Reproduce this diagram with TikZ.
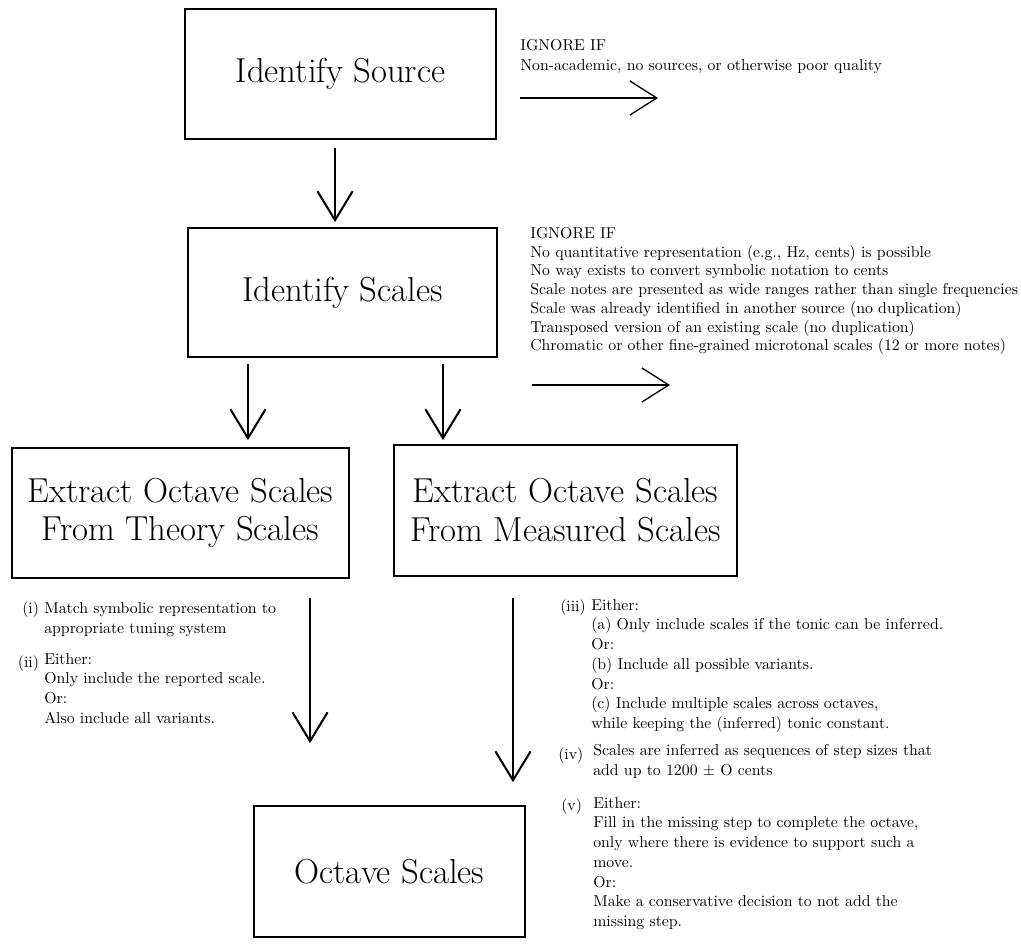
\documentclass[tikz,border=0pt]{standalone}
\usetikzlibrary{arrows.meta}
\begin{document}
\begin{tikzpicture}[x=0.64pt,y=-0.64pt,
  box/.style={draw, line width=1.1pt, inner sep=0pt, align=center, font=\fontsize{22.2}{24.8}\selectfont},
  varrow/.style={line width=1.3pt, -{Straight Barb[length=18.5pt,width=22.5pt]}},
  harrow/.style={line width=0.85pt, -{Straight Barb[length=17.2pt,width=21.8pt]}},
  note/.style={inner sep=0pt, align=left, anchor=north west},
  lbl/.style={inner sep=0pt, font=\fontsize{10.1}{12}\selectfont}]
\path[use as bounding box] (0,0) rectangle (1021,946);

% boxes
\node[box, minimum width=199.0pt, minimum height=83.2pt] (src) at (340.5,74) {Identify Source};
\node[box, minimum width=197.8pt, minimum height=82.6pt] (scl) at (342.5,292.5) {Identify Scales};
\node[box, minimum width=215.7pt, minimum height=83.2pt] (th) at (180.5,513) {Extract Octave Scales\\From Theory Scales};
\node[box, minimum width=219.5pt, minimum height=83.8pt] (ms) at (565.5,510.5) {Extract Octave Scales\\From Measured Scales};
\node[box, minimum width=173.4pt, minimum height=83.8pt] (oct) at (389.5,871.5) {Octave Scales};

% vertical connectors
\draw[varrow, shorten <=5.1pt, shorten >=3.2pt] ([xshift=-3.5pt]src.south) -- ([xshift=-3.5pt]src.south |- scl.north);
\draw[varrow, shorten <=3.8pt, shorten >=4.5pt] ([xshift=-60.5pt]scl.south) -- ([xshift=-60.5pt]scl.south |- th.north);
\draw[varrow, shorten <=3.8pt, shorten >=2.6pt] ([xshift=64.3pt]scl.south) -- ([xshift=64.3pt]scl.south |- ms.north);
\draw[varrow, shorten <=12.2pt, shorten >=39.7pt] ([xshift=82.9pt]th.south) -- ([xshift=82.9pt]th.south |- oct.north);
\draw[varrow, shorten <=13.4pt, shorten >=14.7pt] ([xshift=-33.6pt]ms.south) -- ([xshift=-33.6pt]ms.south |- oct.north);

% horizontal "ignore" arrows
\coordinate (h1a) at (520,98);
\coordinate (h1b) at (658,98);
\coordinate (h2a) at (532,385);
\coordinate (h2b) at (670,385);
\draw[harrow] (h1a) -- (h1b);
\draw[harrow] (h2a) -- (h2b);

% ignore notes
\node[note, font=\fontsize{10.1}{12.4}\selectfont] (ign1) at (520,37.1)
  {\strut IGNORE IF\\Non-academic, no sources, or otherwise poor quality};
\node[note, font=\fontsize{10.1}{12}\selectfont] (ign2) at (530,224.9)
  {\strut IGNORE IF\\
   No quantitative representation (e.g., Hz, cents) is possible\\
   No way exists to convert symbolic notation to cents\\
   Scale notes are presented as wide ranges rather than single frequencies\\
   Scale was already identified in another source (no duplication)\\
   Transposed version of an existing scale (no duplication)\\
   Chromatic or other fine-grained microtonal scales (12 or more notes)};

% left notes
\node[lbl, anchor=base east] (li) at (39.3,613.4) {(i)};
\node[note, font=\fontsize{10.1}{12.6}\selectfont] (ti) at (44,599.7)
  {\strut Match symbolic representation to\\appropriate tuning system};
\node[lbl, anchor=base east] (lii) at (39.3,667.8) {(ii)};
\node[note, font=\fontsize{10.1}{12.6}\selectfont] (tii) at (44,650.2)
  {\strut Either:\\Only include the reported scale.\\Or:\\Also include all variants.};

% right notes
\node[lbl, anchor=base west] (liii) at (560,611) {(iii)};
\node[note, font=\fontsize{10.1}{12.6}\selectfont] (tiii) at (591,596.2)
  {\strut Either:\\
   (a) Only include scales if the tonic can be inferred.\\
   Or:\\
   (b) Include all possible variants.\\
   Or:\\
   (c) Include multiple scales across octaves,\\
   while keeping the (inferred) tonic constant.};
\node[lbl, anchor=base west] (liv) at (558,759.4) {(iv)};
\node[note, font=\fontsize{10.1}{12.6}\selectfont] (tiv) at (593,741.7)
  {\strut Scales are inferred as sequences of step sizes that\\add up to 1200 $\pm$ O cents};
\node[lbl, anchor=base west] (lv) at (561,810) {(v)};
\node[note, font=\fontsize{10.1}{12.6}\selectfont] (tv) at (593,794.2)
  {\strut Either:\\
   Fill in the missing step to complete the octave,\\
   only where there is evidence to support such a\\
   move.\\
   Or:\\
   Make a conservative decision to not add the\\
   missing step.};
\end{tikzpicture}
\end{document}
